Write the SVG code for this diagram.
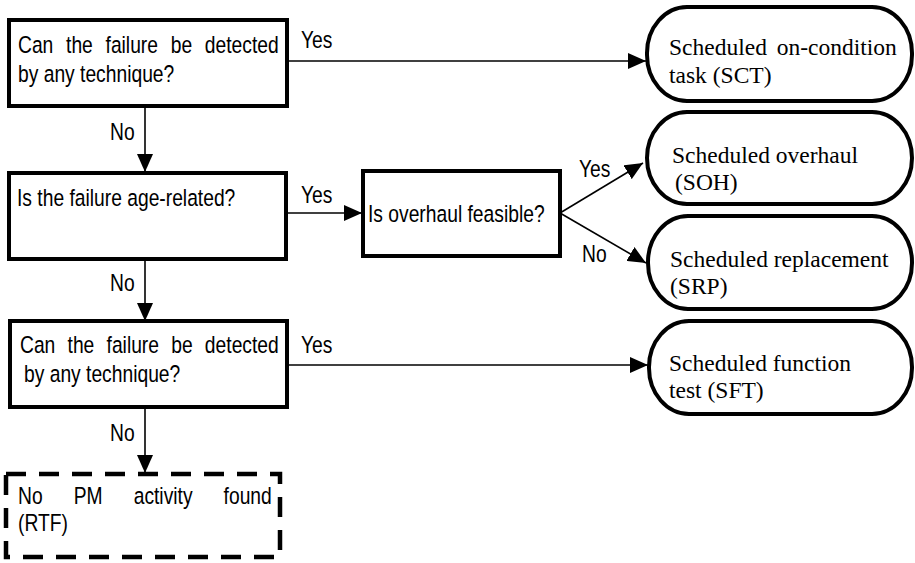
<svg xmlns="http://www.w3.org/2000/svg" width="915" height="563" viewBox="0 0 915 563">
  <defs>
    <marker id="ah" markerWidth="18" markerHeight="16" refX="18" refY="8" orient="auto" markerUnits="userSpaceOnUse">
      <path d="M0,0 L18,8 L0,16 z" fill="#000"/>
    </marker>
    <style>
      .box { fill: #fff; stroke: #000; stroke-width: 4; }
      .term { fill: #fff; stroke: #000; stroke-width: 4; }
      .dash { fill: #fff; stroke: #000; stroke-width: 4.5; stroke-dasharray: 20 13; }
      .conn { fill: none; stroke: #000; stroke-width: 1.6; marker-end: url(#ah); }
      .s { font-family: "Liberation Sans", Arial, sans-serif; font-size: 23.5px; fill: #000; }
      .r { font-family: "Liberation Serif", "Times New Roman", serif; font-size: 23.5px; fill: #000; }
    </style>
  </defs>
  <rect width="915" height="563" fill="#fff"/>

  <!-- connectors -->
  <g id="connectors">
    <line class="conn" x1="287" y1="61" x2="646" y2="61"/>
    <line class="conn" x1="145" y1="106" x2="145" y2="172"/>
    <line class="conn" x1="286" y1="213" x2="362" y2="213"/>
    <line class="conn" x1="560" y1="213" x2="643" y2="163"/>
    <line class="conn" x1="560" y1="213" x2="646" y2="263"/>
    <line class="conn" x1="145" y1="259" x2="145" y2="321"/>
    <line class="conn" x1="287" y1="365" x2="648" y2="365"/>
    <line class="conn" x1="145" y1="407" x2="145" y2="473"/>
    <text class="s" transform="translate(301 48) scale(0.82 1)">Yes</text>
    <text class="s" transform="translate(110 140) scale(0.82 1)">No</text>
    <text class="s" transform="translate(301 203) scale(0.82 1)">Yes</text>
    <text class="s" transform="translate(579 177) scale(0.82 1)">Yes</text>
    <text class="s" transform="translate(582 262) scale(0.82 1)">No</text>
    <text class="s" transform="translate(110 291) scale(0.82 1)">No</text>
    <text class="s" transform="translate(301 353) scale(0.82 1)">Yes</text>
    <text class="s" transform="translate(110 441) scale(0.82 1)">No</text>
  </g>

  <!-- question 1 -->
  <g id="q1">
    <rect class="box" x="9" y="20" width="278" height="86"/>
    <text class="s" transform="translate(18 53) scale(0.82 1)" word-spacing="9">Can the failure be detected</text>
    <text class="s" transform="translate(18 82) scale(0.82 1)">by any technique?</text>
  </g>

  <!-- question 2 -->
  <g id="q2">
    <rect class="box" x="9" y="173" width="277" height="86"/>
    <text class="s" transform="translate(17 206) scale(0.82 1)">Is the failure age-related?</text>
  </g>

  <!-- overhaul decision -->
  <g id="q-overhaul">
    <rect class="box" x="363" y="171" width="197" height="85"/>
    <text class="s" transform="translate(368 222) scale(0.82 1)">Is overhaul feasible?</text>
  </g>

  <!-- question 3 -->
  <g id="q3">
    <rect class="box" x="10" y="321" width="277" height="86"/>
    <text class="s" transform="translate(20 353) scale(0.82 1)" word-spacing="8.4">Can the failure be detected</text>
    <text class="s" transform="translate(24 382) scale(0.82 1)">by any technique?</text>
  </g>

  <!-- run to failure -->
  <g id="rtf">
    <rect class="dash" x="6" y="474" width="274" height="83"/>
    <text class="s" transform="translate(18 504) scale(0.82 1)" word-spacing="31.4">No PM activity found</text>
    <text class="s" transform="translate(18 531) scale(0.82 1)">(RTF)</text>
  </g>

  <!-- outcomes -->
  <g id="sct">
    <rect class="term" x="647" y="7" width="265" height="94" rx="40" ry="46"/>
    <text class="r" x="669" y="55" word-spacing="4">Scheduled on-condition</text>
    <text class="r" x="669" y="83">task (SCT)</text>
  </g>
  <g id="soh">
    <rect class="term" x="647" y="112" width="265" height="92" rx="40" ry="46"/>
    <text class="r" x="672" y="163">Scheduled overhaul</text>
    <text class="r" x="675" y="190">(SOH)</text>
  </g>
  <g id="srp">
    <rect class="term" x="648" y="216" width="264" height="93" rx="40" ry="46"/>
    <text class="r" x="670" y="267">Scheduled replacement</text>
    <text class="r" x="670" y="294">(SRP)</text>
  </g>
  <g id="sft">
    <rect class="term" x="649" y="321" width="263" height="93" rx="40" ry="46"/>
    <text class="r" x="669" y="371">Scheduled function</text>
    <text class="r" x="669" y="398">test (SFT)</text>
  </g>
</svg>
